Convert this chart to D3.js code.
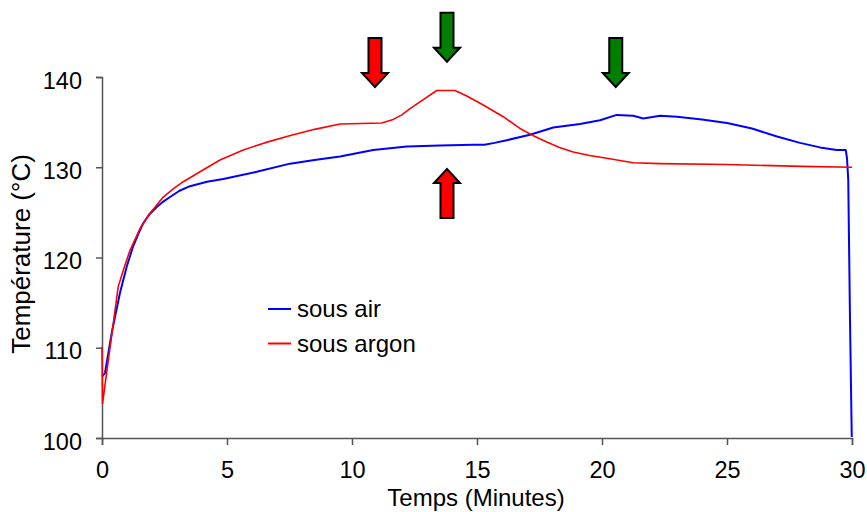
<!DOCTYPE html>
<html lang="fr">
  <head>
    <meta charset="UTF-8" />
    <title>Température</title>
    <script src="https://cdn.jsdelivr.net/npm/d3@7/dist/d3.min.js"></script>
    <style>
      body { margin: 0; background: #fff; }
      text { font-family: Arial, "Liberation Sans", sans-serif; fill: #000; }
    </style>
  </head>
  <body>
    <svg width="867" height="512"></svg>
  </body>

  <script>
    // temps (minutes) / température (°C)
    var airT = [0, 0.12, 0.4, 0.72, 0.99, 1.24, 1.45, 1.65, 1.9, 2.19, 2.45, 2.72, 3.1, 3.52, 4.2, 4.85, 6.19, 7.52, 8.5, 9.52, 10.85, 12.19, 13.52, 14.85, 15.3, 15.7, 16.19, 17.12, 18.05, 19.12, 19.92, 20.59, 21.25, 21.65, 22.32, 23, 24, 25, 26, 27, 27.92, 28.72, 29.39, 29.75, 29.8, 29.85, 29.92, 29.99];
    var airY = [106.8, 107.2, 111.8, 116.1, 119.0, 121.2, 122.6, 123.8, 124.8, 125.6, 126.2, 126.7, 127.4, 127.9, 128.4, 128.7, 129.5, 130.4, 130.8, 131.2, 131.9, 132.3, 132.4, 132.5, 132.5, 132.7, 133.0, 133.6, 134.4, 134.8, 135.2, 135.8, 135.7, 135.4, 135.7, 135.6, 135.3, 134.9, 134.3, 133.4, 132.7, 132.2, 131.9, 131.9, 131.0, 128.6, 113.1, 100.1];

    var argT = [0, 0.02, 0.65, 0.9, 1.12, 1.52, 1.92, 2.45, 2.85, 3.25, 3.92, 4.72, 5.65, 6.5, 7.5, 8.5, 9.52, 11.19, 11.65, 11.99, 12.32, 12.85, 13.39, 14.12, 14.59, 15.25, 16.05, 16.72, 17.25, 17.79, 18.3, 18.85, 19.5, 20.19, 21.25, 22.32, 25, 28, 30];
    var argY = [110.1, 103.8, 116.8, 119.0, 120.8, 123.2, 124.9, 126.7, 127.6, 128.4, 129.5, 130.8, 131.9, 132.7, 133.5, 134.2, 134.8, 134.9, 135.3, 135.8, 136.5, 137.5, 138.5, 138.5, 137.9, 136.9, 135.6, 134.3, 133.5, 132.8, 132.2, 131.7, 131.3, 131.0, 130.5, 130.4, 130.3, 130.1, 130.0];

    var xTicks = [0, 5, 10, 15, 20, 25, 30];
    var yTicks = [100, 110, 120, 130, 140];

    // flèches : temps, température de la pointe, sens, couleur
    var arrowT = [10.92, 13.8, 20.55, 13.8];
    var arrowY = [138.9, 141.7, 138.9, 129.8];
    var arrowDir = ['down', 'down', 'down', 'up'];
    var arrowColor = ['#ff0000', '#007f00', '#007f00', '#ff0000'];

    var seriesNames = ['sous air', 'sous argon'];
    var seriesColors = ['#0000ff', '#ff0000'];

    var svg = d3.select('svg');

    var x = d3.scaleLinear().domain([0, 30]).range([102, 852]);
    var y = d3.scaleLinear().domain([100, 140]).range([438, 77]);

    // axes
    var axisX = d3.axisBottom(x).tickValues(xTicks).tickSize(7).tickPadding(16);
    var axisY = d3.axisLeft(y).tickValues(yTicks).tickSize(6).tickPadding(14);

    var gx = svg.append('g').attr('transform', 'translate(0,438)').call(axisX);
    var gy = svg.append('g').attr('transform', 'translate(102,0)').call(axisY);

    [gx, gy].forEach(function (g) {
      g.select('.domain').attr('stroke', '#555').attr('stroke-width', 1.5);
      g.selectAll('.tick line').attr('stroke', '#555').attr('stroke-width', 1.5);
      g.selectAll('.tick text')
        .style('font-family', 'Arial, "Liberation Sans", sans-serif')
        .style('font-size', '23.5px')
        .attr('fill', '#000');
    });
    gy.selectAll('.tick text').attr('dy', '0.47em');

    // courbes
    var line = d3
      .line()
      .x(function (d) { return x(d[0]); })
      .y(function (d) { return y(d[1]); });

    var air = d3.zip(airT, airY);
    var argon = d3.zip(argT, argY);

    svg.append('path')
      .datum(air)
      .attr('d', line)
      .attr('fill', 'none')
      .attr('stroke', seriesColors[0])
      .attr('stroke-width', 2)
      .attr('stroke-linejoin', 'round');

    svg.append('path')
      .datum(argon)
      .attr('d', line)
      .attr('fill', 'none')
      .attr('stroke', seriesColors[1])
      .attr('stroke-width', 1.6)
      .attr('stroke-linejoin', 'round');

    // légende
    var legend = svg.selectAll('.legend').data(seriesNames).enter().append('g')
      .attr('transform', function (d, i) { return 'translate(268,' + (309 + i * 34.5) + ')'; });
    legend.append('line')
      .attr('x1', 0).attr('x2', 23)
      .attr('stroke', function (d, i) { return seriesColors[i]; })
      .attr('stroke-width', 2);
    legend.append('text')
      .attr('x', 29).attr('y', 8)
      .style('font-size', '24px')
      .text(function (d) { return d; });

    // titres
    svg.append('text')
      .attr('x', 476).attr('y', 506)
      .attr('text-anchor', 'middle')
      .style('font-size', '24px')
      .text('Temps (Minutes)');

    svg.append('text')
      .attr('transform', 'translate(30,254) rotate(-90)')
      .attr('text-anchor', 'middle')
      .style('font-size', '26px')
      .text('Température (°C)');

    // flèches
    var arrowPath = 'M-6.5,-49L6.5,-49L6.5,-14L13,-14L0,0L-13,-14L-6.5,-14Z';
    svg.selectAll('.arrow').data(arrowT).enter().append('path')
      .attr('d', arrowPath)
      .attr('transform', function (d, i) {
        return 'translate(' + x(d) + ',' + y(arrowY[i]) + ')' + (arrowDir[i] === 'up' ? ' rotate(180)' : '');
      })
      .attr('fill', function (d, i) { return arrowColor[i]; })
      .attr('stroke', '#000')
      .attr('stroke-width', 2)
      .attr('stroke-linejoin', 'miter');
  </script>
</html>
